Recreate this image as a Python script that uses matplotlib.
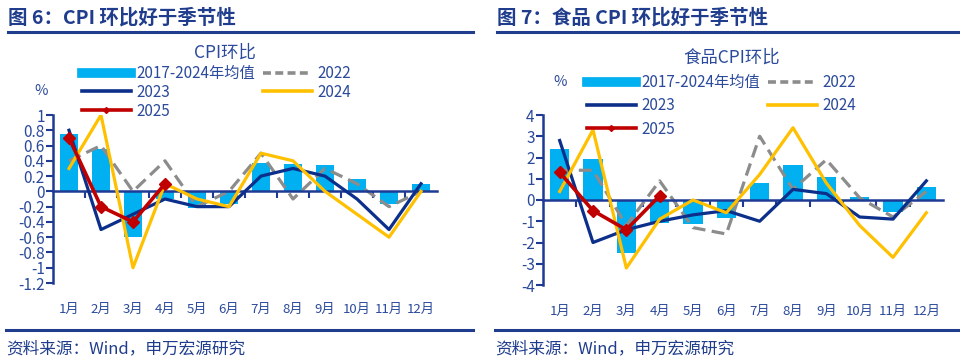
import matplotlib
matplotlib.use('Agg')
import matplotlib.pyplot as plt
from matplotlib.lines import Line2D
import numpy as np

plt.rcParams['font.family'] = ['Noto Sans CJK SC', 'DejaVu Sans']

months = ['1月', '2月', '3月', '4月', '5月', '6月', '7月', '8月', '9月', '10月', '11月', '12月']

# CPI 环比 (%)
cpi_avg = [0.75, 0.56, -0.6, -0.1, -0.22, -0.17, 0.37, 0.36, 0.35, 0.16, -0.17, 0.1]
cpi_2022 = [0.4, 0.6, 0.0, 0.4, -0.2, 0.0, 0.5, -0.1, 0.3, 0.1, -0.2, 0.0]
cpi_2023 = [0.8, -0.5, -0.3, -0.1, -0.2, -0.2, 0.2, 0.3, 0.2, -0.1, -0.5, 0.1]
cpi_2024 = [0.3, 1.0, -1.0, 0.1, -0.1, -0.2, 0.5, 0.4, 0.0, -0.3, -0.6, 0.0]
cpi_2025 = [0.7, -0.2, -0.4, 0.1]

# 食品 CPI 环比 (%)
food_avg = [2.4, 1.95, -2.5, -1.1, -1.15, -0.85, 0.8, 1.65, 1.1, 0.15, -0.55, 0.6]
food_2022 = [1.4, 1.4, -1.2, 0.9, -1.3, -1.6, 3.0, 0.5, 1.9, 0.1, -0.8, 0.4]
food_2023 = [2.8, -2.0, -1.4, -1.0, -0.7, -0.5, -1.0, 0.5, 0.3, -0.8, -0.9, 0.9]
food_2024 = [0.4, 3.3, -3.2, -0.9, 0.0, -0.6, 1.2, 3.4, 0.8, -1.2, -2.7, -0.6]
food_2025 = [1.3, -0.5, -1.4, 0.2]

C_BAR = '#00B0F0'
C_22 = '#8C8C8C'
C_23 = '#0B2F8A'
C_24 = '#FFC000'
C_25 = '#C00000'
C_TXT = '#2B4A9C'
C_AX = '#1F3A93'
C_TITLE = '#1F3D8C'

W, H = 960, 361
fig = plt.figure(figsize=(W / 100, H / 100), dpi=100)


def fx(px):
    return px / W


def fy(py):
    return 1 - py / H


def draw_panel(rect, avg, d22, d23, d24, d25, ylim, yticks, ytlabels,
               title, pct_xy, leg_xy, lspace):
    ax = fig.add_axes(rect)
    x = np.arange(12)
    ax.bar(x, avg, width=0.58, color=C_BAR, zorder=1)
    ax.plot(x, d22, color=C_22, lw=2.3, ls=(0, (4, 2)), zorder=2)
    ax.plot(x, d23, color=C_23, lw=2.3, zorder=3)
    ax.plot(x, d24, color=C_24, lw=2.3, zorder=4)
    ax.plot(np.arange(len(d25)), d25, color=C_25, lw=2.6, marker='D',
            ms=6.5, zorder=5)

    ax.set_xlim(-0.5, 11.5)
    ax.set_ylim(*ylim)
    ax.set_yticks(yticks)
    ax.set_yticklabels(ytlabels)
    ax.tick_params(axis='y', colors=C_AX, labelcolor=C_TXT, labelsize=11,
                   length=5, width=1.5, pad=1)
    ax.set_xticks(np.arange(0.5, 11.5, 1))
    ax.set_xticklabels([])
    ax.tick_params(axis='x', colors=C_AX, length=5, width=1.5, direction='out')
    ax.spines['bottom'].set_position(('data', 0))
    for s in ['top', 'right']:
        ax.spines[s].set_visible(False)
    for s in ['left', 'bottom']:
        ax.spines[s].set_color(C_AX)
        ax.spines[s].set_linewidth(1.8)
    ax.patch.set_alpha(0)

    trans = ax.get_xaxis_transform()
    for i, m in enumerate(months):
        ax.text(i, -0.155, m, transform=trans, ha='center', va='center',
                fontsize=9.5, color=C_TXT)

    handles = [
        Line2D([], [], color=C_BAR, lw=7),
        Line2D([], [], color=C_23, lw=2.6),
        Line2D([], [], color=C_25, lw=2.6, marker='D', ms=3),
        Line2D([], [], color=C_22, lw=2.6, ls=(0, (2.2, 1.2))),
        Line2D([], [], color=C_24, lw=2.6),
    ]
    labels = ['2017-2024年均值', '2023', '2025', '2022', '2024']
    fig.legend(handles, labels, loc='upper left',
               bbox_to_anchor=(fx(leg_xy[0]), fy(leg_xy[1])), ncol=2,
               frameon=False, fontsize=11, labelcolor=C_TXT,
               handlelength=3.2, handletextpad=0.35, columnspacing=0.55,
               labelspacing=lspace, borderpad=0, borderaxespad=0)
    fig.text(fx(pct_xy[0]), fy(pct_xy[1]), '%', fontsize=10.5, color=C_TXT,
             ha='center', va='center')
    fig.text(fx(title[1]), fy(title[2]), title[0], fontsize=12.5,
             color=C_TXT, ha='center', va='center')
    return ax


draw_panel([fx(53), fy(283), fx(384), (283 - 115) / H],
           cpi_avg, cpi_2022, cpi_2023, cpi_2024, cpi_2025,
           (-1.2, 1.0), np.arange(-1.2, 1.01, 0.2),
           ['-1.2', '-1', '-0.8', '-0.6', '-0.4', '-0.2', '0', '0.2', '0.4',
            '0.6', '0.8', '1'],
           ('CPI环比', 225, 53), (41, 91), (82, 65), 0.12)

draw_panel([fx(543), fy(285), fx(400), (285 - 115) / H],
           food_avg, food_2022, food_2023, food_2024, food_2025,
           (-4, 4), np.arange(-4, 5, 1),
           [str(v) for v in range(-4, 5)],
           ('食品CPI环比', 732, 58), (560, 82), (587, 74), 0.42)

# panel headers and footers
for x0, x1, head in [(8, 473, '图 6：CPI 环比好于季节性'),
                     (497, 960, '图 7：食品 CPI 环比好于季节性')]:
    fig.text(fx(x0), fy(18), head, fontsize=14, fontweight='bold',
             color=C_TITLE, ha='left', va='center')
    fig.add_artist(Line2D([fx(x0), fx(x1)], [fy(32), fy(32)], color=C_TITLE,
                          lw=2.2))
    fig.add_artist(Line2D([fx(x0 - 2), fx(x1)], [fy(330), fy(330)],
                          color=C_TITLE, lw=2.2))
    fig.text(fx(x0 - 2), fy(349), '资料来源：Wind，申万宏源研究', fontsize=12,
             color=C_TITLE, ha='left', va='center')

fig.savefig('out.png', dpi=100)
